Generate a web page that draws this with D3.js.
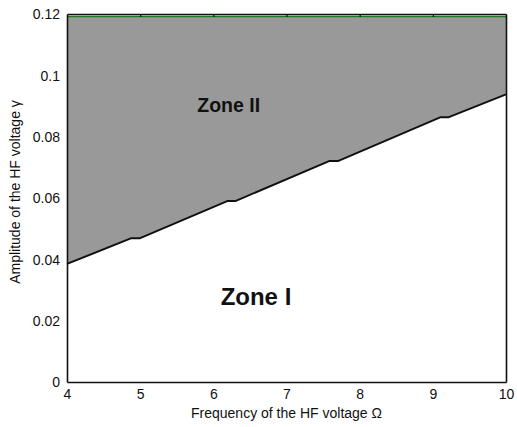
<!DOCTYPE html>
<html>
<head>
<meta charset="utf-8">
<script src="https://cdn.jsdelivr.net/npm/d3@7"></script>
<style>
  html, body { margin: 0; padding: 0; background: #fff; }
  svg text { font-family: "Liberation Sans", Arial, Helvetica, sans-serif; fill: #111; }
</style>
</head>
<body>
<svg id="chart" width="517" height="427"></svg>
<script>
// Boundary between the two zones: amplitude gamma versus frequency Omega
const omega = [4, 4.88, 5.0, 6.19, 6.30, 7.59, 7.71, 9.10, 9.21, 10];
const gamma = [0.0385, 0.0469, 0.0469, 0.0590, 0.0590, 0.0721, 0.0721, 0.0863, 0.0863, 0.0938];
// Upper limit of the shaded zone
const upperLimit = 0.1192;

const xTicks = [4, 5, 6, 7, 8, 9, 10];
const yTicks = [0, 0.02, 0.04, 0.06, 0.08, 0.1, 0.12];
const yTickLabels = ["0", "0.02", "0.04", "0.06", "0.08", "0.1", "0.12"];

const zoneNames = ["Zone II", "Zone I"];
const zoneOmega = [5.78, 6.10];
const zoneGamma = [0.0882, 0.0250];
const zoneSizes = [19.5, 24];

const svg = d3.select("#chart");
const m = { left: 67, right: 506, top: 14, bottom: 382 };

const x = d3.scaleLinear().domain([4, 10]).range([m.left, m.right]);
const y = d3.scaleLinear().domain([0, 0.12]).range([m.bottom, m.top]);

const pts = omega.map((o, i) => ({ o, g: gamma[i] }));

// Shaded zone between the boundary and the upper limit
const area = d3.area()
  .x(d => x(d.o))
  .y0(() => y(upperLimit))
  .y1(d => y(d.g));
svg.append("path").datum(pts)
  .attr("d", area)
  .attr("fill", "#999999");

// Upper limit line
svg.append("line")
  .attr("x1", x(4)).attr("x2", x(10))
  .attr("y1", y(upperLimit)).attr("y2", y(upperLimit))
  .attr("stroke", "#1f7a1f").attr("stroke-width", 1.6);

// Boundary curve
svg.append("path").datum(pts)
  .attr("d", d3.line().x(d => x(d.o)).y(d => y(d.g)))
  .attr("fill", "none")
  .attr("stroke", "#111")
  .attr("stroke-width", 2)
  .attr("stroke-linejoin", "round");

// Axes
const xAxis = svg.append("g").attr("transform", `translate(0,${m.bottom})`)
  .call(d3.axisBottom(x).tickValues(xTicks).tickSize(0).tickPadding(7).tickFormat(d3.format("d")));
const yAxis = svg.append("g").attr("transform", `translate(${m.left},0)`)
  .call(d3.axisLeft(y).tickValues(yTicks).tickSize(0).tickPadding(7)
    .tickFormat((d, i) => yTickLabels[i]));
const topAxis = svg.append("g").attr("transform", `translate(0,${m.top})`)
  .call(d3.axisTop(x).tickValues(xTicks.slice(1, -1)).tickSizeInner(-3).tickSizeOuter(0).tickFormat(""));
const rightAxis = svg.append("g").attr("transform", `translate(${m.right},0)`)
  .call(d3.axisRight(y).tickValues([]).tickSizeOuter(0));

[xAxis, yAxis, topAxis, rightAxis].forEach(g => {
  g.select(".domain").attr("stroke", "#111").attr("stroke-width", 1.6);
  g.selectAll(".tick line").attr("stroke", "#111").attr("stroke-width", 1.2);
  g.selectAll("text").attr("font-size", 14).attr("fill", "#111")
    .attr("font-family", "'Liberation Sans', Arial, sans-serif");
});
yAxis.selectAll("text").attr("dy", "0.35em");
xAxis.selectAll("text").attr("dy", "0.71em");

// Axis titles
svg.append("text")
  .attr("x", (m.left + m.right) / 2).attr("y", 418)
  .attr("text-anchor", "middle")
  .attr("font-size", 14)
  .text("Frequency of the HF voltage \u03A9");

svg.append("text")
  .attr("transform", "translate(20,192) rotate(-90)")
  .attr("text-anchor", "middle")
  .attr("font-size", 14)
  .text("Amplitude of the HF voltage \u03B3");

// Zone labels
svg.selectAll(".zone").data(zoneNames).enter().append("text")
  .attr("class", "zone")
  .attr("x", (d, i) => x(zoneOmega[i])).attr("y", (d, i) => y(zoneGamma[i]))
  .attr("font-size", (d, i) => zoneSizes[i])
  .attr("font-weight", "bold")
  .text(d => d);
</script>
</body>
</html>
